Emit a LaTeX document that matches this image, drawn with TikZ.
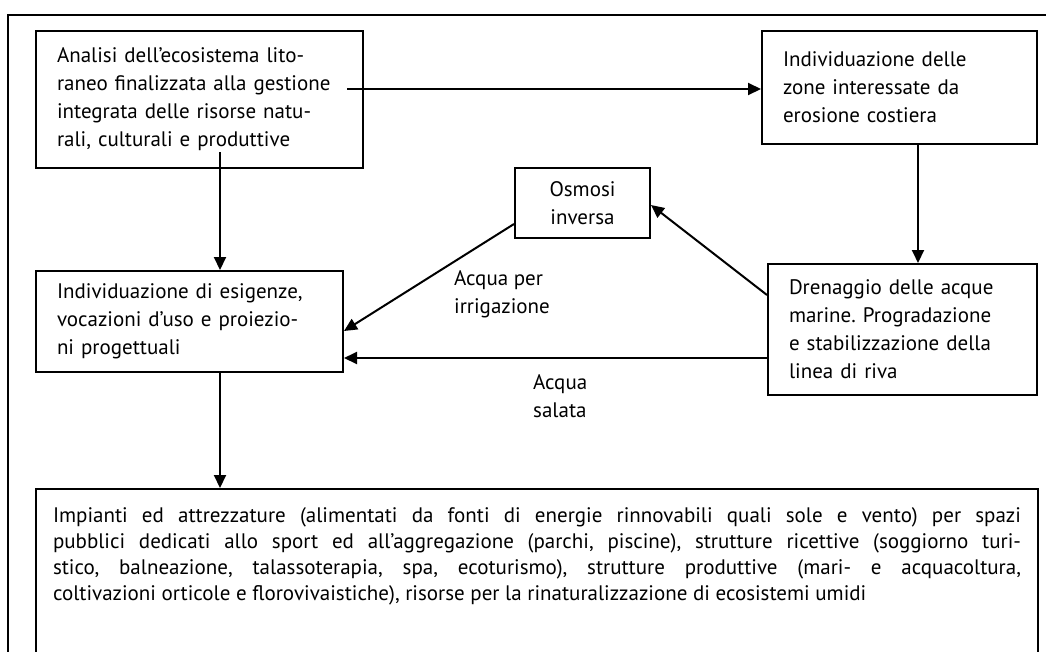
\documentclass[tikz,border=0pt]{standalone}
\usepackage{fontspec}
\setmainfont{PT Sans}
\frenchspacing
\usetikzlibrary{arrows.meta,calc}
\begin{document}
\begin{tikzpicture}[x=1pt,y=-1pt,
  every node/.style={font=\fontsize{21}{28}\selectfont},
  box/.style={draw,line width=2pt,inner xsep=21pt,inner ysep=2pt,align=left,anchor=north west},
  arr/.style={line width=2pt,-{Triangle[length=13pt,width=12pt]}},
  lab/.style={inner sep=0pt,align=left,anchor=base west}]
\useasboundingbox (0,0) rectangle (1046,651);
\clip (0,0) rectangle (1046,651);
\draw[line width=2pt] (8,15) rectangle (1080,700);
\node[box,text width=285pt,minimum height=137pt] (b1) at (35,30)
  {\mbox{Analisi dell’ecosistema lito-}\\\mbox{raneo finalizzata alla gestione}\\\mbox{integrata delle risorse natu-}\\\mbox{rali, culturali e produttive}};
\node[box,text width=233pt,minimum height=113pt] (b2) at (761,30)
  {Individuazione delle\\zone interessate da\\erosione costiera};
\node[box,text width=265pt,minimum height=101pt] (b3) at (35,270)
  {\mbox{Individuazione di esigenze,}\\\mbox{vocazioni d’uso e proiezio-}\\ni progettuali};
\node[box,text width=227pt,minimum height=131pt] (dren) at (767,263)
  {\mbox{Drenaggio delle acque}\\\mbox{marine. Progradazione}\\\mbox{e stabilizzazione della}\\linea di riva};
\node[box,align=center,inner xsep=0pt,text width=135pt,minimum height=70pt] (osm) at (514,167)
  {Osmosi\\inversa};
\node[box,inner xsep=17pt,inner ysep=19pt,text width=968pt,align=justify,font=\fontsize{21}{26}\selectfont] (big) at (35,488)
  {Impianti ed attrezzature (alimentati da fonti di energie rinnovabili quali sole e vento) per spazi\linebreak
   pubblici dedicati allo sport ed all’aggregazione (parchi, piscine), strutture ricettive (soggiorno turi-\linebreak
   stico, balneazione, talassoterapia, spa, ecoturismo), strutture produttive (mari- e acquacoltura,\linebreak
   coltivazioni orticole e florovivaistiche), risorse per la rinaturalizzazione di ecosistemi umidi\par\rule{0pt}{200pt}};
\node[lab] (l1) at (454,313) {Acqua per\\irrigazione};
\node[lab] (l2) at (533,417) {Acqua\\salata};
\coordinate (s1) at (347,89);
\coordinate (s2) at (220,152);
\coordinate (s3) at (918,0);
\draw[arr] (s1) -- (s1 -| b2.west);
\draw[arr] (s2) -- (s2 |- b3.north);
\draw[arr] (s2 |- b3.south) -- (s2 |- big.north);
\draw[arr] (s3 |- b2.south) -- (s3 |- dren.north);
\draw[arr] (dren.west |- 0,295) -- (osm.east |- 0,205);
\draw[arr] (osm.west |- 0,224) -- (b3.east |- 0,331);
\draw[arr] (dren.west |- 0,358) -- (b3.east |- 0,358);
\end{tikzpicture}
\end{document}
